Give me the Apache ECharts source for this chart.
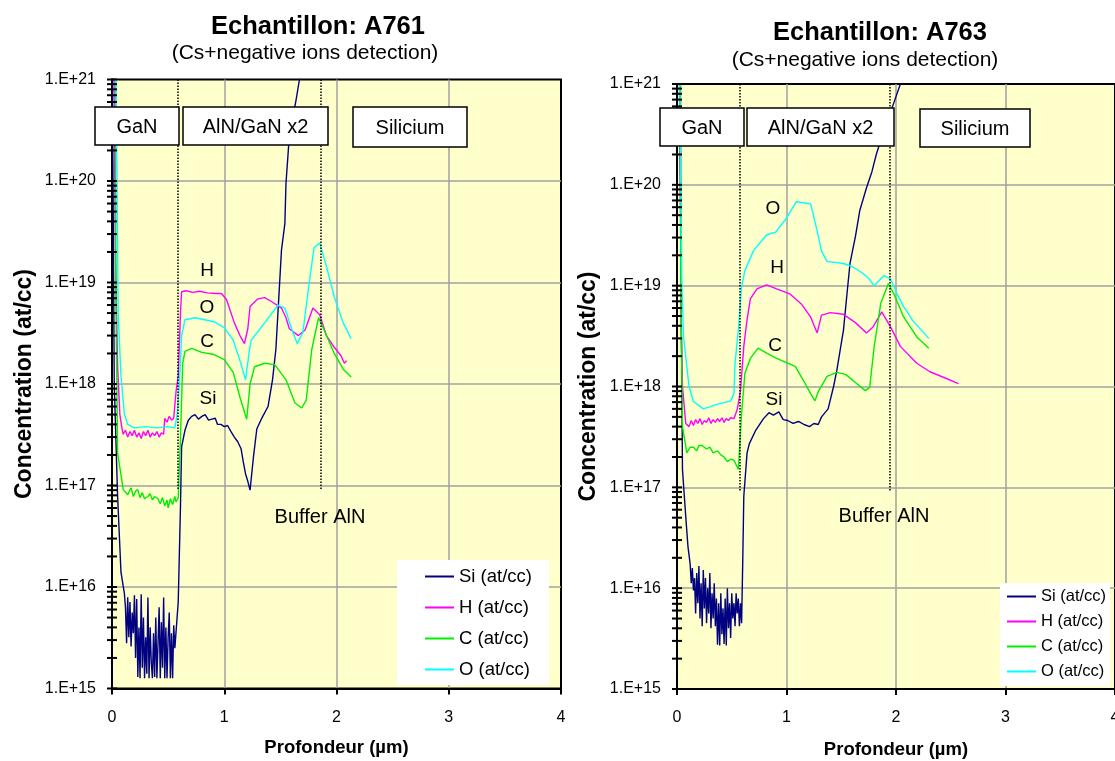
<!DOCTYPE html>
<html>
<head>
<meta charset="utf-8">
<script src="https://cdn.jsdelivr.net/npm/echarts@6/dist/echarts.min.js"></script>
<style>
html,body{margin:0;padding:0;background:#fff;}
#chart{width:1115px;height:761px;}
</style>
</head>
<body>
<div id="chart"></div>
<script>
// profils SIMS : [profondeur (um), concentration (at/cc)]
var a761Si = [[0,5e21],[0.02,1.0e18],[0.05,7.8e16],[0.08,1.4e16],[0.11,8.7e15],
  [0.12,6.3e15],[0.13,2.8e15],[0.14,7.9e15],[0.15,3.2e15],[0.16,7.1e15],[0.17,2.6e15],[0.18,5.6e15],[0.19,3.5e15],
  [0.20,8.3e15],[0.21,2.0e15],[0.22,7.6e15],[0.23,1.3e15],[0.24,4.0e15],[0.25,1.26e15],[0.26,8.5e15],[0.27,1.6e15],
  [0.28,5.0e15],[0.29,1.26e15],[0.30,3.2e15],[0.31,1.4e15],[0.32,7.9e15],[0.33,1.26e15],[0.34,4.0e15],[0.35,1.8e15],
  [0.36,1.26e15],[0.37,3.5e15],[0.38,1.3e15],[0.39,5.0e15],[0.40,1.26e15],[0.41,2.8e15],[0.42,6.3e15],[0.43,1.26e15],
  [0.44,4.5e15],[0.45,1.6e15],[0.46,7.9e15],[0.47,1.26e15],[0.48,4.0e15],[0.49,1.26e15],[0.50,3.2e15],[0.51,5.6e15],
  [0.52,1.26e15],[0.53,3.5e15],[0.54,1.26e15],[0.55,4.2e15],[0.56,2.5e15],[0.57,2.6e15],[0.59,7.1e15],[0.61,6.2e16],
  [0.62,2.4e17],[0.65,3.5e17],[0.68,4.4e17],[0.71,4.8e17],[0.74,5.0e17],[0.77,4.5e17],[0.80,4.8e17],[0.83,5.0e17],
  [0.86,4.4e17],[0.89,4.5e17],[0.92,4.6e17],[0.94,4.0e17],[0.97,4.0e17],[1.0,3.8e17],[1.03,3.9e17],[1.06,3.4e17],
  [1.09,3.0e17],[1.12,2.7e17],[1.15,2.3e17],[1.17,1.7e17],[1.19,1.3e17],[1.21,1.1e17],[1.23,9.0e16],[1.26,1.9e17],
  [1.29,3.6e17],[1.33,4.5e17],[1.39,6.0e17],[1.43,1.1e18],[1.46,2.2e18],[1.49,8.5e18],[1.51,2.1e19],[1.54,3.8e19],
  [1.55,9.5e19],[1.58,2.8e20],[1.64,6.3e20],[1.67,1.0e21],[1.70,1.3e21]];
var a761H = [[0,5e21],[0.015,3e21],[0.03,2e19],[0.05,1.5e18],[0.07,5.0e17],[0.09,3.6e17],[0.10,3.2e17],[0.12,3.5e17],
  [0.14,3.0e17],[0.16,3.4e17],[0.18,3.1e17],[0.20,3.5e17],[0.22,3.0e17],[0.24,3.3e17],[0.26,2.9e17],[0.28,3.4e17],
  [0.30,3.1e17],[0.32,3.5e17],[0.34,3.0e17],[0.36,3.3e17],[0.38,3.1e17],[0.40,3.4e17],[0.42,3.0e17],[0.44,3.3e17],
  [0.46,3.2e17],[0.47,4.6e17],[0.49,4.2e17],[0.51,4.8e17],[0.53,4.4e17],[0.55,4.6e17],[0.57,8.3e17],[0.59,1.2e18],
  [0.61,5.0e18],[0.62,8.1e18],[0.66,8.3e18],[0.72,8.0e18],[0.78,8.2e18],[0.85,7.9e18],[0.92,7.8e18],[0.975,7.8e18],
  [1.02,6.8e18],[1.09,4.0e18],[1.14,3.0e18],[1.18,2.5e18],[1.21,3.5e18],[1.23,5.8e18],[1.30,6.9e18],[1.36,7.1e18],
  [1.42,6.5e18],[1.51,5.6e18],[1.55,4.5e18],[1.58,3.5e18],[1.66,3.0e18],[1.72,3.4e18],[1.79,5.6e18],[1.85,4.8e18],
  [1.91,3.0e18],[1.98,2.3e18],[2.04,1.9e18],[2.07,1.6e18],[2.09,1.7e18]];
var a761C = [[0,5e21],[0.03,2e21],[0.035,6.8e18],[0.05,2.1e17],[0.10,9.1e16],[0.14,8.1e16],[0.17,9.5e16],[0.19,7.8e16],
  [0.21,8.8e16],[0.23,9.1e16],[0.25,7.6e16],[0.27,8.5e16],[0.29,7.4e16],[0.32,7.8e16],[0.34,8.3e16],[0.36,7.2e16],
  [0.38,7.8e16],[0.41,7.4e16],[0.43,6.6e16],[0.45,7.6e16],[0.47,6.3e16],[0.49,7.2e16],[0.50,6.0e16],[0.52,7.4e16],
  [0.54,6.5e16],[0.56,7.8e16],[0.57,6.9e16],[0.59,7.5e16],[0.61,3.0e17],[0.63,1.6e18],[0.65,2.1e18],[0.71,2.24e18],
  [0.80,2.05e18],[0.91,1.95e18],[1.0,1.74e18],[1.08,1.3e18],[1.14,7.4e17],[1.20,4.5e17],[1.23,1.0e18],[1.27,1.48e18],
  [1.36,1.6e18],[1.45,1.55e18],[1.55,1.1e18],[1.63,6.5e17],[1.69,5.8e17],[1.73,6.9e17],[1.78,2.2e18],[1.84,4.5e18],
  [1.89,3.4e18],[1.98,2.0e18],[2.06,1.4e18],[2.13,1.17e18]];
var a761O = [[0,5e21],[0.03,3e21],[0.045,1e20],[0.055,5e18],[0.08,1.2e18],[0.11,5.1e17],[0.14,4.0e17],[0.20,3.7e17],
  [0.30,3.8e17],[0.40,3.7e17],[0.50,3.8e17],[0.56,3.7e17],[0.58,5.0e17],[0.60,1.0e18],[0.62,3.0e18],[0.65,4.3e18],
  [0.74,4.5e18],[0.91,4.1e18],[1.0,3.6e18],[1.08,2.7e18],[1.14,1.7e18],[1.19,1.1e18],[1.22,2.0e18],[1.24,2.7e18],
  [1.36,4.0e18],[1.48,6.0e18],[1.54,5.6e18],[1.60,3.5e18],[1.65,2.5e18],[1.70,3.2e18],[1.76,1.05e19],[1.80,2.2e19],
  [1.85,2.45e19],[1.91,1.45e19],[1.98,7.2e18],[2.06,4.0e18],[2.13,2.8e18]];

var a763Si = [[0,5e21],[0.02,3e21],[0.05,1.5e17],[0.08,5.1e16],[0.10,2.6e16],[0.12,1.74e16],[0.13,1.12e16],
  [0.14,1.58e16],[0.15,9.5e15],[0.16,1.26e16],[0.17,5.6e15],[0.18,1.41e16],[0.19,7.1e15],[0.20,1.66e16],[0.21,5.0e15],
  [0.22,1.12e16],[0.23,4.2e15],[0.24,1.51e16],[0.25,6.3e15],[0.26,1.26e16],[0.27,4.5e15],[0.28,1.0e16],[0.29,5.6e15],
  [0.30,1.41e16],[0.31,4.0e15],[0.32,8.9e15],[0.33,5.0e15],[0.34,1.12e16],[0.35,4.2e15],[0.36,7.9e15],[0.37,2.75e15],
  [0.38,7.1e15],[0.39,2.7e15],[0.40,8.9e15],[0.41,3.5e15],[0.42,6.3e15],[0.43,2.8e15],[0.44,7.9e15],[0.45,2.7e15],
  [0.46,1.0e16],[0.47,4.0e15],[0.48,7.1e15],[0.49,3.2e15],[0.50,8.9e15],[0.51,5.0e15],[0.52,7.1e15],[0.53,4.2e15],
  [0.54,8.9e15],[0.55,5.6e15],[0.56,7.9e15],[0.57,4.2e15],[0.58,7.1e15],[0.59,4.5e15],[0.60,1.74e16],[0.61,8.1e16],
  [0.64,2.2e17],[0.66,2.7e17],[0.72,3.7e17],[0.79,4.8e17],[0.84,5.5e17],[0.88,5.2e17],[0.93,5.6e17],[0.97,4.7e17],
  [1.01,4.6e17],[1.06,4.3e17],[1.11,4.5e17],[1.16,4.2e17],[1.21,4.0e17],[1.25,4.3e17],[1.29,4.2e17],[1.32,5.0e17],
  [1.38,6.0e17],[1.43,1.0e18],[1.46,1.45e18],[1.51,3.1e18],[1.52,3.6e18],[1.55,7.8e18],[1.58,1.66e19],[1.63,3.1e19],
  [1.67,5.6e19],[1.73,9.3e19],[1.78,1.35e20],[1.82,2.0e20],[1.89,3.5e20],[1.98,6.5e20],[2.04,1.0e21],[2.08,1.3e21]];
var a763H = [[0,5e21],[0.03,3e21],[0.04,3e18],[0.05,1.0e18],[0.08,4.3e17],[0.11,4.0e17],[0.13,4.6e17],[0.15,4.1e17],
  [0.17,4.7e17],[0.19,4.3e17],[0.21,4.8e17],[0.23,4.2e17],[0.25,4.6e17],[0.27,4.4e17],[0.29,4.9e17],[0.31,4.3e17],
  [0.33,4.7e17],[0.35,4.4e17],[0.37,4.8e17],[0.39,4.5e17],[0.41,4.9e17],[0.43,4.4e17],[0.45,4.8e17],[0.47,4.6e17],
  [0.49,4.9e17],[0.52,4.8e17],[0.55,5.9e17],[0.58,9.1e17],[0.61,2.5e18],[0.64,4.6e18],[0.67,7.4e18],[0.73,9.3e18],
  [0.82,1.02e19],[0.91,9.3e18],[1.03,8.3e18],[1.14,6.5e18],[1.22,4.9e18],[1.28,3.4e18],[1.32,5.1e18],[1.40,5.4e18],
  [1.52,5.2e18],[1.63,4.3e18],[1.73,3.4e18],[1.79,3.9e18],[1.87,5.5e18],[1.95,3.9e18],[2.04,2.5e18],[2.19,1.7e18],
  [2.31,1.4e18],[2.46,1.2e18],[2.57,1.07e18]];
var a763C = [[0,5e21],[0.03,3e21],[0.035,8e18],[0.05,4.0e17],[0.09,2.2e17],[0.12,2.5e17],[0.15,2.5e17],[0.18,2.3e17],
  [0.20,2.6e17],[0.23,2.6e17],[0.27,2.4e17],[0.30,2.5e17],[0.33,2.2e17],[0.37,2.3e17],[0.40,2.1e17],[0.43,2.0e17],
  [0.46,1.8e17],[0.49,1.9e17],[0.52,1.86e17],[0.56,1.5e17],[0.59,5.4e17],[0.62,1.35e18],[0.67,1.9e18],[0.74,2.4e18],
  [0.82,2.14e18],[0.91,1.9e18],[1.08,1.58e18],[1.16,1.12e18],[1.22,8.5e17],[1.26,7.2e17],[1.29,8.9e17],[1.37,1.26e18],
  [1.46,1.38e18],[1.54,1.32e18],[1.64,1.07e18],[1.72,9.1e17],[1.76,9.8e17],[1.80,2.45e18],[1.86,6.6e18],[1.93,1.05e19],
  [1.98,8.3e18],[2.07,4.9e18],[2.19,3.1e18],[2.30,2.4e18]];
var a763O = [[0,5e21],[0.02,3e21],[0.045,1e19],[0.06,3.1e18],[0.11,1.0e18],[0.15,7.1e17],[0.24,6.0e17],[0.36,6.6e17],
  [0.49,7.2e17],[0.52,8.5e17],[0.53,1.7e18],[0.56,3.6e18],[0.59,9.8e18],[0.62,1.41e19],[0.70,2.24e19],[0.82,3.2e19],
  [0.90,3.4e19],[0.99,4.5e19],[1.09,6.8e19],[1.17,6.6e19],[1.22,6.5e19],[1.28,3.5e19],[1.32,2.2e19],[1.37,1.74e19],
  [1.52,1.66e19],[1.60,1.55e19],[1.70,1.32e19],[1.76,1.15e19],[1.80,1.0e19],[1.89,1.26e19],[1.95,1.17e19],[2.01,8.3e18],
  [2.07,6.2e18],[2.16,4.4e18],[2.30,3.0e18]];

// limites de couches (pointilles)
var limites761 = [0.585, 1.857];
var limites763 = [0.577, 1.946];

var noms = ['Si (at/cc)', 'H (at/cc)', 'C (at/cc)', 'O (at/cc)'];
var couleurs = ['#000080', '#FF00FF', '#00EE00', '#00FFFF'];
var police = '"Liberation Sans", Arial, sans-serif';

var chart = echarts.init(document.getElementById('chart'));

function axeX(idx, gap) {
  return {
    gridIndex: idx, type: 'value', min: 0, max: 4, interval: 1,
    axisLine: {lineStyle: {color: '#000', width: 2}},
    axisTick: {length: 6, lineStyle: {color: '#000', width: 2}},
    axisLabel: {color: '#000', fontSize: 16, margin: 21, fontFamily: police},
    splitLine: {showMinLine: false, showMaxLine: false, lineStyle: {color: '#a0a0a0', width: 1.5}},
    name: 'Profondeur (µm)', nameLocation: 'middle', nameGap: gap,
    nameTextStyle: {color: '#000', fontSize: 18.5, fontWeight: 'bold', fontFamily: police}
  };
}
function axeY(idx, gap) {
  return {
    gridIndex: idx, type: 'log', logBase: 10, min: 1e15, max: 1e21,
    axisLine: {lineStyle: {color: '#000', width: 2}},
    axisTick: {show: false},
    axisLabel: {color: '#000', fontSize: 16, margin: 16, fontFamily: police,
      formatter: function(v) { return '1.E+' + Math.round(Math.log(v) / Math.LN10); }},
    splitLine: {showMinLine: false, showMaxLine: false, lineStyle: {color: '#a0a0a0', width: 1.5}},
    name: 'Concentration (at/cc)', nameLocation: 'middle', nameGap: gap, nameRotate: 90,
    nameTextStyle: {color: '#000', fontSize: 23, fontWeight: 'bold', fontFamily: police}
  };
}
function courbe(nom, couleur, idx, data) {
  return {
    name: nom, type: 'line', xAxisIndex: idx, yAxisIndex: idx, data: data,
    showSymbol: false, symbol: 'none', clip: true, animation: false,
    lineStyle: {color: couleur, width: 1.4}, itemStyle: {color: couleur}
  };
}
function pointilles(idx, xs) {
  return {
    type: 'line', xAxisIndex: idx, yAxisIndex: idx, data: [], silent: true,
    markLine: {
      symbol: ['none', 'none'], silent: true, animation: false,
      label: {show: false},
      lineStyle: {color: '#000', type: 'dotted', width: 1.5},
      data: xs.map(function(x) { return [{coord: [x, 1e21]}, {coord: [x, 9e16]}]; })
    }
  };
}
function legende(left, top, pad, taille, gap, hauteur) {
  return {
    data: noms, orient: 'vertical', left: left, top: top, padding: pad,
    backgroundColor: '#fff', icon: 'rect', itemWidth: 29, itemHeight: 2, itemGap: gap,
    selectedMode: false,
    textStyle: {color: '#000', fontSize: taille, fontFamily: police, lineHeight: hauteur}
  };
}

var series = [
  courbe(noms[0], couleurs[0], 0, a761Si), courbe(noms[1], couleurs[1], 0, a761H),
  courbe(noms[2], couleurs[2], 0, a761C), courbe(noms[3], couleurs[3], 0, a761O),
  courbe(noms[0], couleurs[0], 1, a763Si), courbe(noms[1], couleurs[1], 1, a763H),
  courbe(noms[2], couleurs[2], 1, a763C), courbe(noms[3], couleurs[3], 1, a763O),
  pointilles(0, limites761), pointilles(1, limites763)
];

function texte(t, x, y, taille, gras) {
  return {type: 'text', z: 100, style: {text: t, x: x, y: y, align: 'center', verticalAlign: 'middle',
    textAlign: 'center', textVerticalAlign: 'middle', fill: '#000',
    font: (gras ? 'bold ' : '') + taille + 'px ' + police}};
}
function boite(t, x, y, w, h) {
  return {type: 'group', z: 100, children: [
    {type: 'rect', z: 100, shape: {x: x, y: y, width: w, height: h},
      style: {fill: '#fff', stroke: '#000', lineWidth: 1.5}},
    texte(t, x + w / 2, y + h / 2 + 1, 20, false)
  ]};
}

var annotations = [
  texte('Echantillon: A761', 318, 27, 25.5, true),
  texte('(Cs+negative ions detection)', 305, 53, 21, false),
  texte('Echantillon: A763', 880, 33, 25.5, true),
  texte('(Cs+negative ions detection)', 865, 60, 21, false),
  boite('GaN', 95, 107, 84, 38), boite('AlN/GaN x2', 183, 107, 145, 38), boite('Silicium', 353, 107, 114, 40),
  boite('GaN', 660, 108, 84, 38), boite('AlN/GaN x2', 747, 108, 147, 38), boite('Silicium', 920, 109, 110, 38),
  texte('H', 207, 271, 19), texte('O', 207, 308, 19), texte('C', 207, 342, 19), texte('Si', 208, 399, 19),
  texte('Buffer AlN', 320, 517, 20),
  texte('O', 773, 209, 19), texte('H', 777, 268, 19), texte('C', 775, 346, 19), texte('Si', 774, 400, 19),
  texte('Buffer AlN', 884, 516, 20)
];

chart.setOption({
  backgroundColor: '#fff',
  animation: false,
  grid: [
    {left: 112, top: 79.5, width: 449, height: 609, show: true, backgroundColor: '#FFFFCC',
      borderColor: '#000', borderWidth: 2, outerBoundsMode: 'none', containLabel: false},
    {left: 677, top: 84, width: 438, height: 605, show: true, backgroundColor: '#FFFFCC',
      borderColor: '#000', borderWidth: 2, outerBoundsMode: 'none', containLabel: false}
  ],
  xAxis: [axeX(0, 50), axeX(1, 51)],
  yAxis: [axeY(0, 76), axeY(1, 77)],
  legend: [
    legende(397, 560, [7, 17, 6, 28], 18.5, 12, 18),
    legende(1000, 583, [5, 4, 6, 7], 16.5, 8, 17)
  ],
  series: series,
  graphic: annotations
});

// graduations secondaires de l'axe log (2..9 par decade), placees via l'echelle
var graduations = [];
[0, 1].forEach(function(g) {
  var x0 = chart.convertToPixel({gridIndex: g}, [0, 1e15])[0];
  for (var e = 15; e <= 20; e++) {
    for (var m = 1; m <= 9; m++) {
      var y = chart.convertToPixel({gridIndex: g}, [0, m * Math.pow(10, e)])[1];
      graduations.push({type: 'line', z: 90, shape: {x1: x0 - 5, y1: y, x2: x0 + 5, y2: y},
        style: {stroke: '#000', lineWidth: 2}});
    }
  }
  var yTop = chart.convertToPixel({gridIndex: g}, [0, 1e21])[1];
  graduations.push({type: 'line', z: 90, shape: {x1: x0 - 5, y1: yTop, x2: x0 + 5, y2: yTop},
    style: {stroke: '#000', lineWidth: 2}});
});
chart.setOption({graphic: annotations.concat(graduations)});
</script>
</body>
</html>
